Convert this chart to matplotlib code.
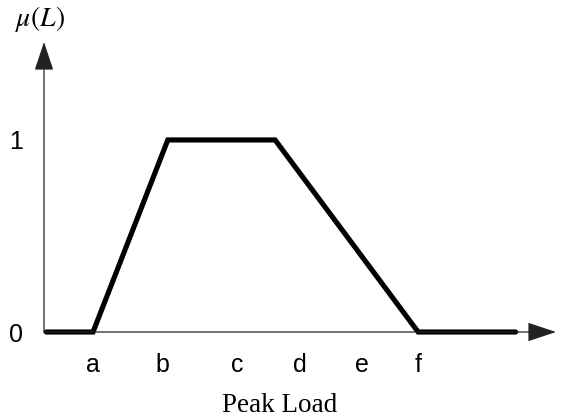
import matplotlib
matplotlib.use("Agg")
import matplotlib.pyplot as plt

# Data
tick_labels = ["a", "b", "c", "d", "e", "f"]
tick_pos = [1.0, 2.06, 3.22, 4.18, 5.14, 6.0]
line_x = [0.28, 1.0, 2.15, 3.8, 6.0, 7.5]
line_y = [0, 0, 1, 1, 0, 0]
ytick_pos = [0, 1]
ytick_labels = ["0", "1"]

W, H = 561, 419
fig = plt.figure(figsize=(W / 100, H / 100), dpi=100)
ax = fig.add_axes([44 / W, 87 / H, (556 - 44) / W, (332 - 42) / H])
xmin, xmax = 0.246, 8.12
ymin, ymax = 0.0, 1.51
ax.set_xlim(xmin, xmax)
ax.set_ylim(ymin, ymax)
for s in ax.spines.values():
    s.set_visible(False)

ax.plot(line_x, line_y, color="black", lw=3.7, solid_joinstyle="miter",
        solid_capstyle="round", clip_on=False, zorder=3)

arrow = dict(arrowstyle="-|>,head_length=0.72,head_width=0.24", lw=0.9,
             color="#222222", shrinkA=0, shrinkB=0, mutation_scale=25)
ax.annotate("", xy=(xmax, 0), xytext=(xmin, 0), arrowprops=arrow,
            annotation_clip=False)
ax.annotate("", xy=(xmin, ymax), xytext=(xmin, 0), arrowprops=arrow,
            annotation_clip=False)

ax.set_xticks(tick_pos)
ax.set_xticklabels(tick_labels, fontfamily="Liberation Sans", fontsize=18)
ax.set_yticks(ytick_pos)
ax.set_yticklabels(ytick_labels, fontfamily="Liberation Sans", fontsize=18)
ax.tick_params(axis="x", length=0, pad=15)
ax.tick_params(axis="y", length=0, pad=15)

ax.set_xlabel("Peak Load", fontfamily="Liberation Serif", fontsize=19.5)
ax.xaxis.set_label_coords((280 - 44) / (556 - 44), -(405 - 332) / (332 - 42))
ax.xaxis.label.set_va("center")

fig.text(40 / W, 1 - 19 / H, r"$\mu(L)$", fontsize=20, ha="center", va="center",
         math_fontfamily="stix")

fig.savefig("out.png", dpi=100, facecolor="white")
